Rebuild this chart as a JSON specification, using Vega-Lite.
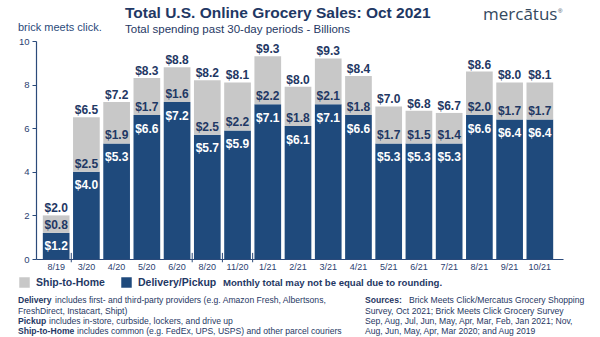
{
  "$schema": "https://vega.github.io/schema/vega-lite/v6.json",
  "width": 527,
  "height": 218,
  "autosize": {"type": "none"},
  "padding": {"left": 36, "top": 41, "right": 37, "bottom": 78},
  "background": "white",
  "config": {"font": "Liberation Sans", "view": {"stroke": null}},
  "title": {
    "text": "Total U.S. Online Grocery Sales: Oct 2021",
    "subtitle": "Total spending past 30-day periods - Billions",
    "anchor": "start",
    "frame": "group",
    "dx": 89,
    "offset": -29,
    "subtitlePadding": 2,
    "font": "Liberation Sans",
    "fontSize": 15.5,
    "fontWeight": "bold",
    "color": "#1f3864",
    "subtitleFont": "Liberation Sans",
    "subtitleFontSize": 11.5,
    "subtitleColor": "#1f3864"
  },
  "datasets": {
    "sales": [
      {"month": "8/19", "Delivery/Pickup": 1.2, "Ship-to-Home": 0.8, "total": 2.0},
      {"month": "3/20", "Delivery/Pickup": 4.0, "Ship-to-Home": 2.5, "total": 6.5},
      {"month": "4/20", "Delivery/Pickup": 5.3, "Ship-to-Home": 1.9, "total": 7.2},
      {"month": "5/20", "Delivery/Pickup": 6.6, "Ship-to-Home": 1.7, "total": 8.3},
      {"month": "6/20", "Delivery/Pickup": 7.2, "Ship-to-Home": 1.6, "total": 8.8},
      {"month": "8/20", "Delivery/Pickup": 5.7, "Ship-to-Home": 2.5, "total": 8.2},
      {"month": "11/20", "Delivery/Pickup": 5.9, "Ship-to-Home": 2.2, "total": 8.1},
      {"month": "1/21", "Delivery/Pickup": 7.1, "Ship-to-Home": 2.2, "total": 9.3},
      {"month": "2/21", "Delivery/Pickup": 6.1, "Ship-to-Home": 1.8, "total": 8.0},
      {"month": "3/21", "Delivery/Pickup": 7.1, "Ship-to-Home": 2.1, "total": 9.3},
      {"month": "4/21", "Delivery/Pickup": 6.6, "Ship-to-Home": 1.8, "total": 8.4},
      {"month": "5/21", "Delivery/Pickup": 5.3, "Ship-to-Home": 1.7, "total": 7.0},
      {"month": "6/21", "Delivery/Pickup": 5.3, "Ship-to-Home": 1.5, "total": 6.8},
      {"month": "7/21", "Delivery/Pickup": 5.3, "Ship-to-Home": 1.4, "total": 6.7},
      {"month": "8/21", "Delivery/Pickup": 6.6, "Ship-to-Home": 2.0, "total": 8.6},
      {"month": "9/21", "Delivery/Pickup": 6.4, "Ship-to-Home": 1.7, "total": 8.0},
      {"month": "10/21", "Delivery/Pickup": 6.4, "Ship-to-Home": 1.7, "total": 8.1}
    ]
  },
  "layer": [
    {
      "data": {"name": "sales"},
      "transform": [
        {"fold": ["Delivery/Pickup", "Ship-to-Home"], "as": ["segment", "amount"]},
        {"stack": "amount", "groupby": ["month"], "sort": [{"field": "segment", "order": "ascending"}], "as": ["v0", "v1"]}
      ],
      "encoding": {
        "x": {
          "field": "month",
          "type": "ordinal",
          "sort": ["8/19","3/20","4/20","5/20","6/20","8/20","11/20","1/21","2/21","3/21","4/21","5/21","6/21","7/21","8/21","9/21","10/21"],
          "scale": {"paddingInner": 0.117, "paddingOuter": 0.275, "align": 0.41},
          "axis": {
            "title": null,
            "ticks": false,
            "labelAngle": 0,
            "labelFontSize": 9,
            "labelColor": "#2b4170",
            "labelPadding": 3,
            "domainColor": "#2b4a7a",
            "domainWidth": 1.2
          }
        }
      },
      "layer": [
        {
          "mark": {"type": "bar"},
          "encoding": {
            "y": {
              "field": "v0",
              "type": "quantitative",
              "scale": {"domain": [0, 10]},
              "axis": {
                "title": null,
                "values": [0, 2, 4, 6, 8, 10],
                "grid": false,
                "tickSize": 4,
                "tickColor": "#2b4a7a",
                "domainColor": "#2b4a7a",
                "domainWidth": 1.2,
                "labelColor": "#2b4170",
                "labelFontSize": 9.5,
                "labelPadding": 3
              }
            },
            "y2": {"field": "v1"},
            "color": {
              "field": "segment",
              "type": "nominal",
              "scale": {"domain": ["Ship-to-Home", "Delivery/Pickup"], "range": ["#c8c8c8", "#1f4a7c"]},
              "legend": {
                "orient": "none",
                "legendX": -17,
                "legendY": 236,
                "direction": "horizontal",
                "title": null,
                "symbolType": "square",
                "symbolSize": 110,
                "symbolStrokeWidth": 0,
                "symbolOpacity": 1,
                "labelFontSize": 10.5,
                "labelFontWeight": "bold",
                "labelColor": "#1f3864",
                "labelOffset": 6,
                "columnPadding": 16
              }
            }
          }
        },
        {
          "transform": [{"filter": "datum.segment === 'Ship-to-Home'"}],
          "mark": {"type": "text", "baseline": "alphabetic", "dy": -3, "fontSize": 12, "fontWeight": "bold", "color": "#1f3864"},
          "encoding": {
            "y": {"field": "v1", "type": "quantitative"},
            "text": {"field": "total", "type": "quantitative", "format": "$.1f"}
          }
        },
        {
          "transform": [{"filter": "datum.segment === 'Ship-to-Home'"}],
          "mark": {"type": "text", "baseline": "alphabetic", "dy": -4, "fontSize": 12, "fontWeight": "bold", "color": "#1f3864"},
          "encoding": {
            "y": {"field": "v0", "type": "quantitative"},
            "text": {"field": "amount", "type": "quantitative", "format": "$.1f"}
          }
        },
        {
          "transform": [{"filter": "datum.segment === 'Delivery/Pickup'"}],
          "mark": {"type": "text", "baseline": "alphabetic", "dy": 17.5, "fontSize": 12, "fontWeight": "bold", "color": "white"},
          "encoding": {
            "y": {"field": "v1", "type": "quantitative"},
            "text": {"field": "amount", "type": "quantitative", "format": "$.1f"}
          }
        },
        {
          "transform": [
            {"filter": "datum.segment === 'Delivery/Pickup'"},
            {"filter": {"field": "month", "oneOf": ["8/19", "6/20", "8/20", "11/20"]}}
          ],
          "mark": {"type": "rule", "color": "#2b4a7a", "strokeWidth": 1},
          "encoding": {
            "x": {"field": "month", "type": "ordinal", "bandPosition": 1.066},
            "y": {"datum": 0.28},
            "y2": {"datum": -0.15}
          }
        }
      ]
    },
    {
      "data": {"values": [{"t": "Monthly total may not be equal due to rounding."}]},
      "mark": {"type": "text", "align": "left", "baseline": "middle", "fontSize": 9.6, "fontWeight": "bold", "color": "#1f3864"},
      "encoding": {"x": {"value": 187}, "y": {"value": 241.7}, "text": {"field": "t"}}
    },
    {
      "data": {"values": [{"t": "Delivery"}]},
      "mark": {"type": "text", "align": "left", "baseline": "alphabetic", "fontSize": 8.6, "fontWeight": "bold", "color": "#1f3864"},
      "encoding": {"x": {"value": -18}, "y": {"value": 262.2}, "text": {"field": "t"}}
    },
    {
      "data": {"values": [{"t": "Pickup"}]},
      "mark": {"type": "text", "align": "left", "baseline": "alphabetic", "fontSize": 8.6, "fontWeight": "bold", "color": "#1f3864"},
      "encoding": {"x": {"value": -18}, "y": {"value": 282.8}, "text": {"field": "t"}}
    },
    {
      "data": {"values": [{"t": "Ship-to-Home"}]},
      "mark": {"type": "text", "align": "left", "baseline": "alphabetic", "fontSize": 8.6, "fontWeight": "bold", "color": "#1f3864"},
      "encoding": {"x": {"value": -18}, "y": {"value": 293.1}, "text": {"field": "t"}}
    },
    {
      "data": {"values": [{"t": "includes first- and third-party providers (e.g. Amazon Fresh, Albertsons,"}]},
      "mark": {"type": "text", "align": "left", "baseline": "alphabetic", "fontSize": 8.6, "color": "#1f3864"},
      "encoding": {"x": {"value": 19}, "y": {"value": 262.2}, "text": {"field": "t"}}
    },
    {
      "data": {"values": [{"t": "FreshDirect, Instacart, Shipt)"}]},
      "mark": {"type": "text", "align": "left", "baseline": "alphabetic", "fontSize": 8.6, "color": "#1f3864"},
      "encoding": {"x": {"value": -18}, "y": {"value": 272.5}, "text": {"field": "t"}}
    },
    {
      "data": {"values": [{"t": "includes in-store, curbside, lockers, and drive up"}]},
      "mark": {"type": "text", "align": "left", "baseline": "alphabetic", "fontSize": 8.6, "color": "#1f3864"},
      "encoding": {"x": {"value": 13}, "y": {"value": 282.8}, "text": {"field": "t"}}
    },
    {
      "data": {"values": [{"t": "includes common (e.g. FedEx, UPS, USPS) and other parcel couriers"}]},
      "mark": {"type": "text", "align": "left", "baseline": "alphabetic", "fontSize": 8.6, "color": "#1f3864"},
      "encoding": {"x": {"value": 41}, "y": {"value": 293.1}, "text": {"field": "t"}}
    },
    {
      "data": {"values": [{"t": "Sources:"}]},
      "mark": {"type": "text", "align": "left", "baseline": "alphabetic", "fontSize": 8.6, "fontWeight": "bold", "color": "#1f3864"},
      "encoding": {"x": {"value": 329}, "y": {"value": 262.2}, "text": {"field": "t"}}
    },
    {
      "data": {"values": [{"t": "Brick Meets Click/Mercatus Grocery Shopping"}]},
      "mark": {"type": "text", "align": "left", "baseline": "alphabetic", "fontSize": 8.6, "color": "#1f3864"},
      "encoding": {"x": {"value": 373}, "y": {"value": 262.2}, "text": {"field": "t"}}
    },
    {
      "data": {"values": [{"t": ["Survey, Oct 2021; Brick Meets Click Grocery Survey", "Sep, Aug, Jul, Jun, May, Apr, Mar, Feb, Jan 2021; Nov,", "Aug, Jun, May, Apr, Mar 2020; and Aug 2019"]}]},
      "mark": {"type": "text", "align": "left", "baseline": "alphabetic", "fontSize": 8.6, "lineHeight": 10.3, "color": "#1f3864"},
      "encoding": {"x": {"value": 329}, "y": {"value": 272.5}, "text": {"field": "t"}}
    },
    {
      "data": {"values": [{"t": "brick meets click."}]},
      "mark": {"type": "text", "align": "left", "baseline": "alphabetic", "fontSize": 11, "color": "#2b4a7a"},
      "encoding": {"x": {"value": -18}, "y": {"value": -10}, "text": {"field": "t"}}
    },
    {
      "data": {"values": [{"t": "mercātus"}]},
      "mark": {"type": "text", "align": "left", "baseline": "alphabetic", "fontSize": 17, "color": "#34495e", "font": "Open Sans"},
      "encoding": {"x": {"value": 447}, "y": {"value": -21}, "text": {"field": "t"}}
    },
    {
      "data": {"values": [{"t": "®"}]},
      "mark": {"type": "text", "align": "left", "baseline": "alphabetic", "fontSize": 6, "color": "#34495e"},
      "encoding": {"x": {"value": 522}, "y": {"value": -28}, "text": {"field": "t"}}
    }
  ]
}
